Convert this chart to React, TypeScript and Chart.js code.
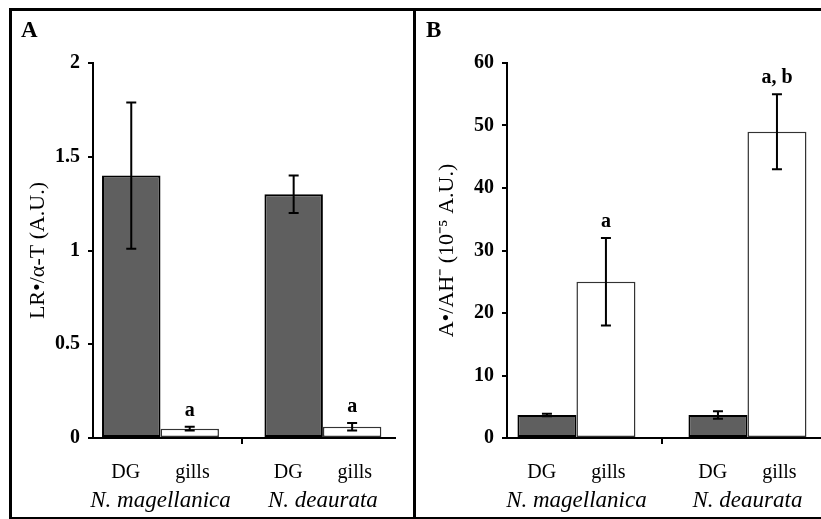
import React, { useEffect, useRef } from 'react';
import { Chart, registerables } from 'chart.js';

Chart.register(...registerables);

// ---- data ----
const species = ['N. magellanica', 'N. deaurata'];
const tissues = ['DG', 'gills'];

// Panel A: LR•/α-T
const lrTicks = [0, 0.5, 1, 1.5, 2];
const lrDG = [1.4, 1.3];
const lrDGErr = [0.39, 0.1];
const lrGills = [0.05, 0.06];
const lrGillsErr = [0.01, 0.02];
const lrGillsMarks = ['a', 'a'];

// Panel B: A•/AH-
const ascTicks = [0, 10, 20, 30, 40, 50, 60];
const ascDG = [3.7, 3.7];
const ascDGErr = [0.2, 0.6];
const ascGills = [25, 49];
const ascGillsErr = [7, 6];
const ascGillsMarks = ['a', 'a, b'];

const FONT = '"Liberation Serif", "Times New Roman", serif';

const errorBarPlugin = {
  id: 'errorBars',
  afterDatasetsDraw(chart: any) {
    const { ctx } = chart;
    const yScale = chart.scales.y;
    chart.data.datasets.forEach((ds: any, di: number) => {
      const meta = chart.getDatasetMeta(di);
      meta.data.forEach((bar: any, i: number) => {
        const v = ds.data[i].y;
        const e = ds.errors[i];
        const top = yScale.getPixelForValue(v + e);
        const bot = yScale.getPixelForValue(v - e);
        ctx.save();
        ctx.strokeStyle = '#000';
        ctx.lineWidth = 2;
        ctx.beginPath();
        ctx.moveTo(bar.x, top);
        ctx.lineTo(bar.x, bot);
        ctx.moveTo(bar.x - 5, top);
        ctx.lineTo(bar.x + 5, top);
        ctx.moveTo(bar.x - 5, bot);
        ctx.lineTo(bar.x + 5, bot);
        ctx.stroke();
        const mark = ds.marks ? ds.marks[i] : '';
        if (mark) {
          ctx.font = `bold 20px ${FONT}`;
          ctx.fillStyle = '#000';
          ctx.textAlign = 'center';
          ctx.textBaseline = 'alphabetic';
          ctx.fillText(mark, bar.x, top - 11);
        }
        ctx.restore();
      });
    });
  },
};

type PanelCfg = {
  letter: string;
  yTitle: string;
  yTicks: number[];
  dg: number[];
  dgErr: number[];
  gills: number[];
  gillsErr: number[];
  marks: string[];
  xMin: number;
  xMax: number;
  catPct: number;
  yWidth: number;
  padLeft: number;
  padRight: number;
  yTitlePad: number;
};

function makeConfig(p: PanelCfg): any {
  const tissueLabel = tissues.join('       ');
  const sepTicks: number[] = [];
  species.forEach((_, i) => {
    sepTicks.push(i);
    if (i < species.length - 1) sepTicks.push(i + 0.5);
  });
  return {
    type: 'bar',
    data: {
      datasets: [
        {
          label: tissues[0],
          data: p.dg.map((y, i) => ({ x: i, y })),
          errors: p.dgErr,
          backgroundColor: '#5f5f5f',
          borderColor: '#000',
          borderWidth: 2,
          borderSkipped: false,
          categoryPercentage: p.catPct,
          barPercentage: 1,
        },
        {
          label: tissues[1],
          data: p.gills.map((y, i) => ({ x: i, y })),
          errors: p.gillsErr,
          marks: p.marks,
          backgroundColor: '#ffffff',
          borderColor: '#333',
          borderWidth: 1.5,
          borderSkipped: false,
          categoryPercentage: p.catPct,
          barPercentage: 1,
        },
      ],
    },
    options: {
      responsive: false,
      animation: false,
      devicePixelRatio: 1,
      layout: { padding: { left: p.padLeft, right: p.padRight, top: 0, bottom: 1 } },
      plugins: {
        legend: { display: false },
        tooltip: { enabled: false },
        title: {
          display: true,
          text: p.letter,
          align: 'start',
          color: '#000',
          font: { family: FONT, size: 23, weight: 'bold' },
          padding: { top: 6, bottom: 18.4 },
        },
      },
      scales: {
        x: {
          type: 'linear',
          position: 'bottom',
          weight: 2,
          offset: false,
          min: p.xMin,
          max: p.xMax,
          bounds: 'data',
          afterBuildTicks: (s: any) => {
            s.ticks = species.map((_, i) => ({ value: i }));
          },
          afterFit: (s: any) => {
            s.height = 32;
          },
          ticks: {
            autoSkip: false,
            maxRotation: 0,
            padding: -4,
            color: '#000',
            font: { family: FONT, size: 23, style: 'italic' },
            callback: (v: number) => species[v] ?? '',
          },
          grid: { display: false, offset: false },
          border: { display: false },
        },
        x2: {
          type: 'linear',
          position: 'bottom',
          weight: 1,
          offset: false,
          min: p.xMin,
          max: p.xMax,
          bounds: 'data',
          afterBuildTicks: (s: any) => {
            s.ticks = sepTicks.map((v) => ({ value: v }));
          },
          afterFit: (s: any) => {
            s.height = 45;
          },
          ticks: {
            autoSkip: false,
            maxRotation: 0,
            padding: 17,
            color: '#000',
            font: { family: FONT, size: 20 },
            callback: (v: number) => (Number.isInteger(v) ? tissueLabel : ''),
          },
          grid: {
            offset: false,
            drawOnChartArea: false,
            drawTicks: true,
            tickLength: 6,
            lineWidth: 2,
            color: (c: any) => (c.tick && !Number.isInteger(c.tick.value) ? '#000' : 'rgba(0,0,0,0)'),
          },
          border: { display: true, color: '#000', width: 2 },
        },
        y: {
          type: 'linear',
          position: 'left',
          min: p.yTicks[0],
          max: p.yTicks[p.yTicks.length - 1],
          afterBuildTicks: (s: any) => {
            s.ticks = p.yTicks.map((v) => ({ value: v }));
          },
          afterFit: (s: any) => {
            s.width = p.yWidth;
          },
          ticks: {
            color: '#000',
            padding: 8,
            font: { family: FONT, size: 20, weight: 'bold' },
            callback: (v: number) => String(v),
          },
          grid: { drawOnChartArea: false, tickLength: 5, lineWidth: 2, color: '#000' },
          border: { display: true, color: '#000', width: 2 },
          title: {
            display: true,
            text: p.yTitle,
            color: '#000',
            font: { family: FONT, size: 22 },
            padding: { top: p.yTitlePad, bottom: 0 },
          },
        },
      },
    },
    plugins: [errorBarPlugin],
  };
}

function Panel({ cfg, left, width }: { cfg: PanelCfg; left: number; width: number }) {
  const ref = useRef<HTMLCanvasElement>(null);
  useEffect(() => {
    if (!ref.current) return;
    const chart = new Chart(ref.current, makeConfig(cfg));
    return () => chart.destroy();
  }, []);
  return (
    <canvas
      ref={ref}
      width={width}
      height={505}
      style={{ position: 'absolute', left, top: 11, width, height: 505 }}
    />
  );
}

const panelA: PanelCfg = {
  letter: 'A',
  yTitle: 'LR•/α-T (A.U.)',
  yTicks: lrTicks,
  dg: lrDG,
  dgErr: lrDGErr,
  gills: lrGills,
  gillsErr: lrGillsErr,
  marks: lrGillsMarks,
  xMin: -0.4156,
  xMax: 1.444,
  catPct: 0.72,
  yWidth: 72,
  padLeft: 9,
  padRight: 18,
  yTitlePad: 4,
};

const panelB: PanelCfg = {
  letter: 'B',
  yTitle: 'A•/AH⁻ (10⁻⁵ A.U.)',
  yTicks: ascTicks,
  dg: ascDG,
  dgErr: ascDGErr,
  gills: ascGills,
  gillsErr: ascGillsErr,
  marks: ascGillsMarks,
  xMin: -0.406,
  xMax: 1.43,
  catPct: 0.69,
  yWidth: 81,
  padLeft: 10,
  padRight: 0,
  yTitlePad: 8,
};

export default function App() {
  return (
    <div style={{ position: 'absolute', left: 0, top: 0, width: 821, height: 519, background: '#fff', overflow: 'hidden' }}>
      <div
        style={{
          position: 'absolute',
          left: 9,
          top: 8,
          width: 812,
          height: 511,
          boxSizing: 'border-box',
          borderTop: '3px solid #000',
          borderLeft: '3px solid #000',
          borderBottom: '2px solid #000',
        }}
      />
      <div style={{ position: 'absolute', left: 413, top: 8, width: 3, height: 511, background: '#000' }} />
      <Panel cfg={panelA} left={12} width={401} />
      <Panel cfg={panelB} left={416} width={405} />
    </div>
  );
}
